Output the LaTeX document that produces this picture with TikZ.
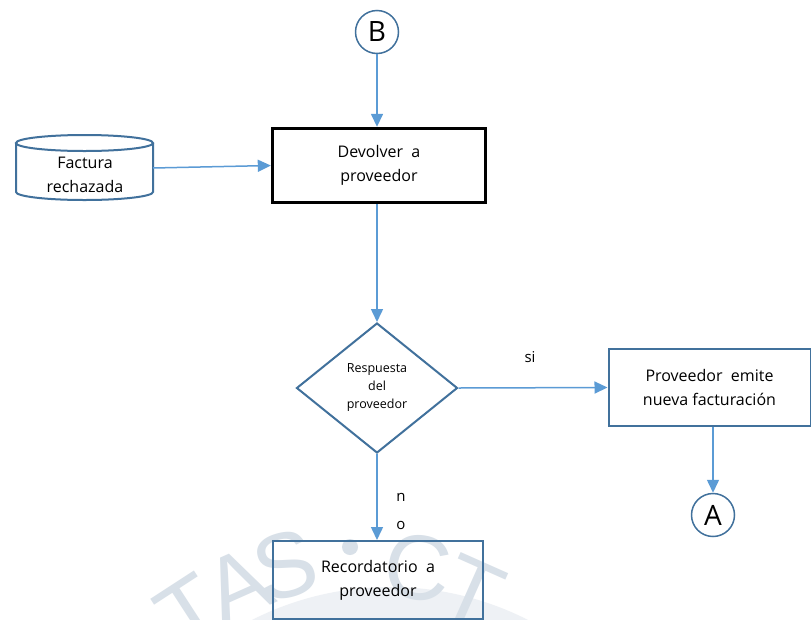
\documentclass[tikz,border=0pt]{standalone}
\usepackage{fontspec}
\setmainfont{Open Sans}
\newfontfamily\sealfont{Liberation Sans}
\usetikzlibrary{shapes.geometric,arrows.meta}
\definecolor{edge}{HTML}{41719C}
\definecolor{flow}{HTML}{5B9BD5}
\definecolor{sealfill}{HTML}{EEF1F5}
\definecolor{sealink}{HTML}{D8E0E8}
\begin{document}
\begin{tikzpicture}[x=1pt,y=-1pt,
  procbox/.style={draw=edge,line width=2pt,align=center,font=\fontsize{16}{24}\selectfont,inner sep=0pt},
  connector/.style={circle,draw=edge,line width=1.5pt,fill=white,minimum size=43pt,inner sep=0pt,font=\fontsize{28}{28}\selectfont},
  decision/.style={diamond,draw=edge,line width=2pt,align=center,font=\fontsize{12.5}{18}\selectfont,inner sep=0pt,minimum width=161pt,minimum height=130pt},
  flowarrow/.style={draw=flow,line width=1.5pt,-{Triangle[length=13pt,width=12pt]}},
  lbl/.style={font=\fontsize{15}{28}\selectfont,align=center},
  seal/.style={text=sealink,font=\sealfont\fontsize{92}{92}\selectfont,inner sep=0pt}]
\useasboundingbox (0,0) rectangle (811,619);
\fill[white] (0,0) rectangle (811,619);

% faint seal in the background
\begin{scope}
\clip (0,0) rectangle (811,619);
\fill[sealfill] (390,892) circle[radius=305];
\node[seal,rotate=33] (s1) at (190,612) {T};
\node[seal,rotate=24] (s2) at (238,585) {A};
\node[seal,rotate=16] (s3) at (285,566) {S};
\fill[sealink] (350,547) circle[radius=8];
\node[seal,rotate=-8] (s4) at (418,568) {C};
\node[seal,rotate=-24] (s5) at (472,592) {T};
\end{scope}

% connectors B and A
\node[connector] (B) at (377,32) {B};
\node[connector] (A) at (713,515) {A};

% process boxes
\node[procbox,draw=black,line width=3.4pt,fill=white,minimum width=213pt,minimum height=74pt] (dev) at (379,165.5) {Devolver\ \ a\\proveedor};
\node[procbox,fill=white,minimum width=202pt,minimum height=77pt] (emite) at (709.5,387.5) {Proveedor\ \ emite\\nueva facturación};
\node[procbox,minimum width=210pt,minimum height=78pt] (rec) at (378,580) {Recordatorio\ \ a\\proveedor};

% stored data: drum drawn as body plus top ellipse
\filldraw[draw=edge,fill=white,line width=2pt]
  (16,143) -- (16,192) arc[start angle=180,end angle=0,x radius=68.5,y radius=8] -- (153,143);
\draw[edge,line width=2pt] (84.5,143) ellipse[x radius=68.5,y radius=8];
\node[procbox,draw=none] (fac) at (85,175) {Factura\\rechazada};
\coordinate (facout) at (153,168);

% decision
\node[decision,fill=white] (resp) at (377,388) {Respuesta\\del\\proveedor};

% flow
\draw[flowarrow] (B.south) -- (dev.north -| B.south);
\draw[flowarrow] (facout) -- (dev.west);
\draw[flowarrow] (dev.south -| resp.north) -- (resp.north);
\draw[flowarrow] (resp.east) -- (emite.west);
\draw[flowarrow] (emite.south -| A.north) -- (A.north);
\draw[flowarrow] (resp.south) -- (rec.north -| resp.south);

% branch labels
\node[lbl] (si) at (530,357) {si};
\node[lbl] (no) at (401,511) {n\\o};
\end{tikzpicture}
\end{document}
